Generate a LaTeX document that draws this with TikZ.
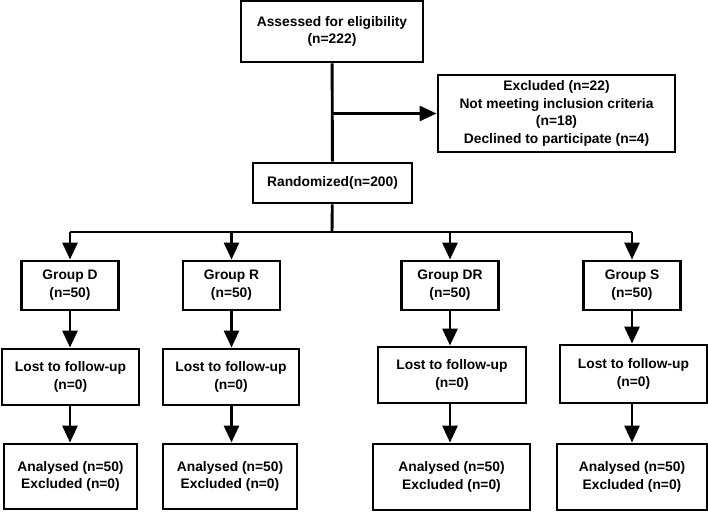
\documentclass[tikz,border=0pt]{standalone}
\usepackage{fontspec}
\setmainfont{Liberation Sans}
\usetikzlibrary{arrows.meta,positioning}

\begin{document}
\begin{tikzpicture}[x=1pt,y=-1pt,line width=2.9pt,
  box/.style={draw,rectangle,align=center,inner sep=2pt,
    font=\fontsize{13.8}{17.8}\selectfont\bfseries},
  grp/.style={box,minimum width=97,minimum height=49},
  arr/.style={-{Triangle[length=17pt,width=15pt]}}]

  \useasboundingbox (0,0) rectangle (708,512);

  \node[box,minimum width=182,minimum height=61] (assess) at (332,31.5)
    {Assessed for eligibility\\(n=222)};
  \node[box,minimum width=237,minimum height=77] (excl) at (556.5,113.5)
    {Excluded (n=22)\\Not meeting inclusion criteria\\(n=18)\\Declined to participate (n=4)};
  \node[box,minimum width=159,minimum height=40] (rand) at (332.5,183)
    {Randomized(n=200)};

  % groups
  \node[grp] (gD)  at (70,285.5)  {Group D\\(n=50)};
  \node[grp] (gR)  at (231.5,285.5) {Group R\\(n=50)};
  \node[grp] (gDR) at (450,285.5) {Group DR\\(n=50)};
  \node[grp] (gS)  at (632,285.5) {Group S\\(n=50)};

  % follow-up
  \node[box,minimum width=137,minimum height=56] (lostD)  at (70.5,377) {Lost to follow-up\\(n=0)};
  \node[box,minimum width=136,minimum height=56] (lostR)  at (231,377) {Lost to follow-up\\(n=0)};
  \node[box,minimum width=148,minimum height=56] (lostDR) at (452,375) {Lost to follow-up\\(n=0)};
  \node[box,minimum width=147,minimum height=58] (lostS)  at (633.5,374) {Lost to follow-up\\(n=0)};

  % analysis
  \node[box,minimum width=133,minimum height=65] (anD)  at (70.5,476.5) {Analysed (n=50)\\Excluded (n=0)};
  \node[box,minimum width=134,minimum height=65] (anR)  at (230,476.5) {Analysed (n=50)\\Excluded (n=0)};
  \node[box,minimum width=157,minimum height=66] (anDR) at (451.5,477) {Analysed (n=50)\\Excluded (n=0)};
  \node[box,minimum width=150,minimum height=66] (anS)  at (632,477) {Analysed (n=50)\\Excluded (n=0)};

  % enrolment
  \coordinate (split) at (assess.south |- excl.west);
  \draw (assess) -- (rand);
  \draw[arr] (split) -- (excl.west);

  % allocation bar
  \coordinate (bar) at (332,232);
  \draw (rand) -- (bar);
  \draw (gD |- bar) -- (gS |- bar);

  \foreach \g in {D,R,DR,S} {
    \draw[arr] (g\g |- bar) -- (g\g.north);
    \draw[arr] (g\g.south) -- (g\g |- lost\g.north);
    \draw[arr] (g\g |- lost\g.south) -- (g\g |- an\g.north);
  }

\end{tikzpicture}
\end{document}
